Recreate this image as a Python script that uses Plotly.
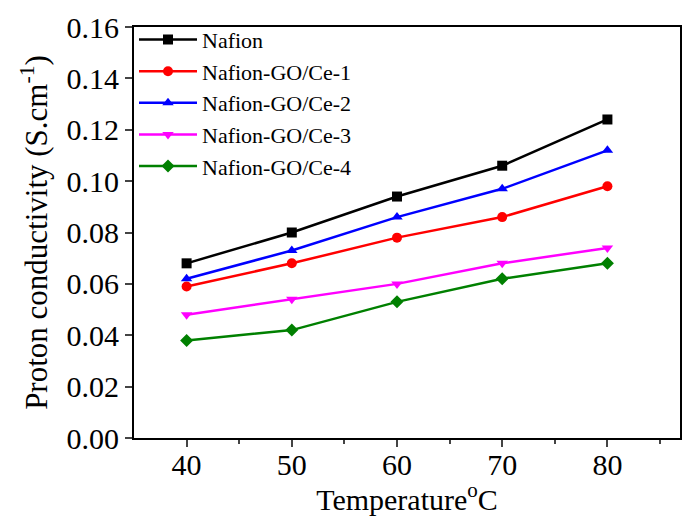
import plotly.graph_objects as go

temps = [40, 50, 60, 70, 80]
nafion = [0.068, 0.080, 0.094, 0.106, 0.124]
ce1 = [0.059, 0.068, 0.078, 0.086, 0.098]
ce2 = [0.062, 0.073, 0.086, 0.097, 0.112]
ce3 = [0.048, 0.054, 0.060, 0.068, 0.074]
ce4 = [0.038, 0.042, 0.053, 0.062, 0.068]

names = ["Nafion", "Nafion-GO/Ce-1", "Nafion-GO/Ce-2", "Nafion-GO/Ce-3", "Nafion-GO/Ce-4"]
colors = ["#000000", "#ff0000", "#0000ff", "#ff00ff", "#008000"]
symbols = ["square", "circle", "triangle-up", "triangle-down", "diamond"]
series = [nafion, ce1, ce2, ce3, ce4]

fig = go.Figure()
for n, c, s, y in zip(names, colors, symbols, series):
    fig.add_trace(go.Scatter(x=temps, y=y, name=n, mode="lines+markers",
                             line=dict(color=c, width=2.5),
                             marker=dict(symbol=s, size=10, color=c)))

font = "Liberation Serif, Times New Roman, serif"
fig.update_layout(
    width=684, height=516,
    margin=dict(l=134, r=2, t=27, b=78),
    plot_bgcolor="white", paper_bgcolor="white",
    font=dict(family=font, color="black"),
    showlegend=True,
    legend=dict(x=0.0, y=1.02, xanchor="left", yanchor="top",
                font=dict(family=font, size=22), bgcolor="rgba(0,0,0,0)",
                tracegroupgap=0, itemwidth=58),
    xaxis=dict(range=[35, 86.9], tickvals=[40, 50, 60, 70, 80],
               ticks="outside", ticklen=7, tickwidth=2, showgrid=False, zeroline=False,
               showline=True, linewidth=2, linecolor="black", mirror=True,
               tickfont=dict(size=30), ticklabelstandoff=-8,
               minor=dict(tickvals=[45, 55, 65, 75, 85], ticks="outside", ticklen=4, tickwidth=2),
               title=dict(text="Temperature<sup>o</sup>C", font=dict(size=30), standoff=6)),
    yaxis=dict(range=[0, 0.16], dtick=0.02, tickformat=".2f",
               ticks="outside", ticklen=7, tickwidth=2, showgrid=False, zeroline=False,
               showline=True, linewidth=2, linecolor="black", mirror=True,
               tickfont=dict(size=30),
               title=dict(text="Proton conductivity (S.cm<sup>-1</sup>)", font=dict(size=31), standoff=10)),
)

fig.write_html("out.html")
